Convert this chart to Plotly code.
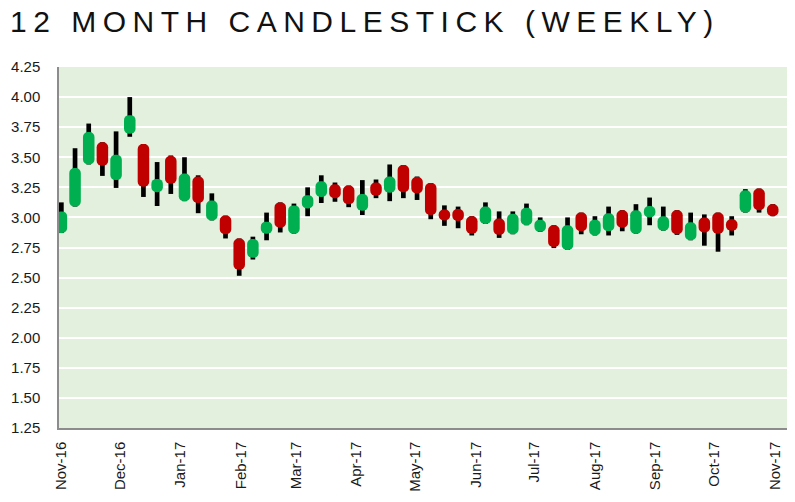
import pandas as pd
import plotly.graph_objects as go

# ---- data (weekly OHLC) ----
week_start = "2016-11-01"
n_weeks = 53
opens = [2.87, 3.09, 3.44, 3.625, 3.31, 3.695, 3.61, 3.21, 3.51, 3.135,
         3.34, 2.975, 3.015, 2.825, 2.665, 2.865, 3.125, 2.865, 3.075, 3.17,
         3.275, 3.265, 3.055, 3.29, 3.205, 3.435, 3.335, 3.285, 3.065, 3.07,
         3.01, 2.945, 2.99, 2.86, 2.935, 2.88, 2.935, 2.73, 3.04, 2.85,
         2.885, 3.06, 2.865, 3.0, 2.89, 3.06, 2.81, 3.0, 3.04, 2.985,
         3.04, 3.24, 3.11]
highs = [3.125, 3.575, 3.78, 3.625, 3.715, 4.0, 3.61, 3.46, 3.515, 3.5,
         3.35, 3.2, 3.015, 2.825, 2.84, 3.04, 3.125, 3.115, 3.25, 3.35,
         3.29, 3.265, 3.31, 3.315, 3.44, 3.435, 3.34, 3.285, 3.10, 3.09,
         3.01, 3.125, 3.05, 3.05, 3.115, 3.0, 2.935, 3.0, 3.04, 3.01,
         3.09, 3.06, 3.11, 3.165, 3.09, 3.06, 3.04, 3.025, 3.04, 3.01,
         3.235, 3.24, 3.11]
lows = [2.87, 3.09, 3.44, 3.345, 3.245, 3.67, 3.17, 3.095, 3.195, 3.135,
        3.035, 2.975, 2.825, 2.515, 2.65, 2.81, 2.875, 2.865, 3.01, 3.12,
        3.13, 3.085, 3.02, 3.16, 3.135, 3.16, 3.145, 2.985, 2.93, 2.91,
        2.85, 2.945, 2.83, 2.86, 2.935, 2.88, 2.745, 2.73, 2.86, 2.85,
        2.85, 2.885, 2.865, 2.935, 2.89, 2.855, 2.81, 2.765, 2.715, 2.85,
        3.04, 3.04, 3.01]
closes = [3.05, 3.41, 3.71, 3.43, 3.52, 3.85, 3.255, 3.32, 3.28, 3.365,
          3.12, 3.14, 2.86, 2.565, 2.82, 2.965, 2.915, 3.10, 3.185, 3.30,
          3.16, 3.11, 3.195, 3.18, 3.34, 3.21, 3.20, 3.02, 2.975, 2.97,
          2.865, 3.09, 2.855, 3.03, 3.08, 2.98, 2.755, 2.935, 2.885, 2.98,
          3.035, 2.915, 3.06, 3.095, 3.01, 2.86, 2.96, 2.875, 2.865, 2.89,
          3.225, 3.06, 3.01]
y_ticks = [1.25, 1.50, 1.75, 2.00, 2.25, 2.50, 2.75, 3.00, 3.25, 3.50, 3.75, 4.00, 4.25]
title_text = "12 MONTH CANDLESTICK (WEEKLY)"

GREEN = "#00B050"
RED = "#C00000"
DAY_MS = 86400000
BODY_W = 5.9 * DAY_MS
WICK_W = 2.4 * DAY_MS

dates = pd.date_range(week_start, periods=n_weeks, freq="7D")

fig = go.Figure()

# wicks
fig.add_trace(go.Bar(
    x=dates, base=lows, y=[h - l for h, l in zip(highs, lows)],
    width=[WICK_W] * n_weeks, marker=dict(color="black", line=dict(width=0)),
    hoverinfo="skip", showlegend=False))

# bodies
bottoms = [min(o, c) for o, c in zip(opens, closes)]
heights = [abs(c - o) for o, c in zip(opens, closes)]
colors = [GREEN if c >= o else RED for o, c in zip(opens, closes)]

fig.add_trace(go.Bar(
    x=dates, base=bottoms, y=heights,
    width=[BODY_W] * n_weeks,
    marker=dict(color=colors, line=dict(width=0), cornerradius=5),
    hoverinfo="skip", showlegend=False))

fig.update_layout(
    width=795, height=502,
    margin=dict(l=59, r=8, t=67, b=74),
    barmode="overlay",
    paper_bgcolor="white",
    plot_bgcolor="#E3F0DE",
    title=dict(text=title_text, x=10 / 795, xanchor="left", xref="container",
               y=1 - 21 / 502, yanchor="middle", yref="container",
               font=dict(family="Liberation Sans", size=30, color="#111111")),
    xaxis=dict(
        type="date",
        range=["2016-10-30 19:00", "2017-11-07 07:00"],
        tick0="2016-11-01", dtick="M1", tickformat="%b-%y",
        tickangle=-90, showgrid=False, zeroline=False,
        showline=True, linecolor="#8C8C8C", linewidth=1.5,
        ticks="", ticklabelstandoff=6,
        tickfont=dict(family="Liberation Sans", size=15, color="#1a1a1a")),
    yaxis=dict(
        range=[1.25, 4.25], tickmode="array", tickvals=y_ticks,
        ticktext=[f"{v:.2f}" for v in y_ticks],
        showgrid=True, gridcolor="white", gridwidth=1.5, zeroline=False,
        showline=True, linecolor="#8C8C8C", linewidth=1.5,
        ticks="", ticklabelstandoff=14,
        tickfont=dict(family="Liberation Sans", size=15, color="#1a1a1a")),
)

post = """
document.body.style.margin='0';
var t=document.querySelector('.gtitle'); if(t){t.style.letterSpacing='6.5px';}
"""
fig.write_html("out.html", post_script=post, config={"displayModeBar": False})
